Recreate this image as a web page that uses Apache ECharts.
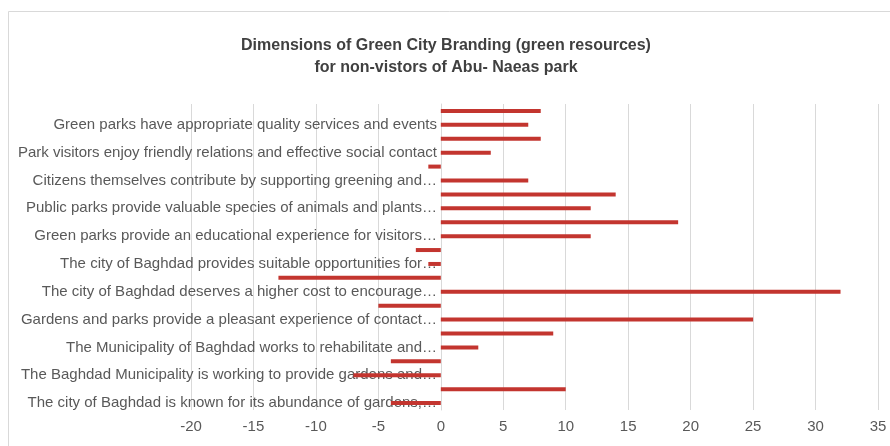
<!DOCTYPE html>
<html>
<head>
<meta charset="utf-8">
<script src="https://cdn.jsdelivr.net/npm/echarts@6/dist/echarts.min.js"></script>
<style>
html,body{margin:0;padding:0;background:#fff;}
#chart{width:890px;height:446px;}
</style>
</head>
<body>
<div id="chart"></div>
<script>
// Categories listed from top to bottom as they appear in the picture
const categoriesTopDown = [
  "Green parks have appropriate quality services and events (a)",
  "Green parks have appropriate quality services and events",
  "Park visitors enjoy friendly relations and effective social contact (a)",
  "Park visitors enjoy friendly relations and effective social contact",
  "Citizens themselves contribute by supporting greening and… (a)",
  "Citizens themselves contribute by supporting greening and…",
  "Public parks provide valuable species of animals and plants… (a)",
  "Public parks provide valuable species of animals and plants…",
  "Green parks provide an educational experience for visitors… (a)",
  "Green parks provide an educational experience for visitors…",
  "The city of Baghdad provides suitable opportunities for… (a)",
  "The city of Baghdad provides suitable opportunities for…",
  "The city of Baghdad deserves a higher cost to encourage… (a)",
  "The city of Baghdad deserves a higher cost to encourage…",
  "Gardens and parks provide a pleasant experience of contact… (a)",
  "Gardens and parks provide a pleasant experience of contact…",
  "The Municipality of Baghdad works to rehabilitate and… (a)",
  "The Municipality of Baghdad works to rehabilitate and…",
  "The Baghdad Municipality is working to provide gardens and… (a)",
  "The Baghdad Municipality is working to provide gardens and…",
  "The city of Baghdad is known for its abundance of gardens,… (a)",
  "The city of Baghdad is known for its abundance of gardens,…"
];
const valuesTopDown = [8, 7, 8, 4, -1, 7, 14, 12, 19, 12, -2, -1, -13, 32, -5, 25, 9, 3, -4, -7, 10, -4];
const xTicks = {min: -20, max: 35, interval: 5};
const titleLines = ["Dimensions of Green City Branding (green resources)", "for non-vistors of Abu- Naeas park"];

const categories = categoriesTopDown.slice().reverse();
const values = valuesTopDown.slice().reverse();

const chart = echarts.init(document.getElementById('chart'), null, {renderer: 'canvas'});
chart.setOption({
  backgroundColor: '#ffffff',
  animation: false,
  graphic: [{
    type: 'rect',
    shape: {x: 8.5, y: 11.5, width: 900, height: 460},
    style: {fill: 'none', stroke: '#d9d9d9', lineWidth: 1},
    silent: true, z: -10
  }],
  title: {
    text: titleLines.join('\n'),
    left: 441, top: 30, textAlign: 'center',
    textStyle: {fontFamily: 'Liberation Sans, Arial, sans-serif', fontSize: 16, fontWeight: 'bold', color: '#404040', lineHeight: 22}
  },
  grid: {left: 191, right: 12, top: 104, bottom: 36, containLabel: false, outerBoundsMode: 'none'},
  xAxis: {
    type: 'value', min: xTicks.min, max: xTicks.max, interval: xTicks.interval,
    axisLine: {show: false}, axisTick: {show: false},
    splitLine: {show: true, lineStyle: {color: '#d9d9d9', width: 1}},
    axisLabel: {color: '#595959', fontSize: 15, fontFamily: 'Liberation Sans, Arial, sans-serif', margin: 9}
  },
  yAxis: {
    type: 'category', data: categories,
    offset: -250,
    axisLine: {show: true, onZero: false, lineStyle: {color: '#d9d9d9'}},
    axisTick: {show: false},
    axisLabel: {interval: 1, color: '#595959', fontSize: 15, fontFamily: 'Liberation Sans, Arial, sans-serif', margin: 4,
      formatter: v => v.replace(' (a)', '')}
  },
  series: [{
    type: 'bar', data: values, barWidth: 4,
    itemStyle: {color: '#c3352f'}, z: 5
  }]
});
</script>
</body>
</html>
